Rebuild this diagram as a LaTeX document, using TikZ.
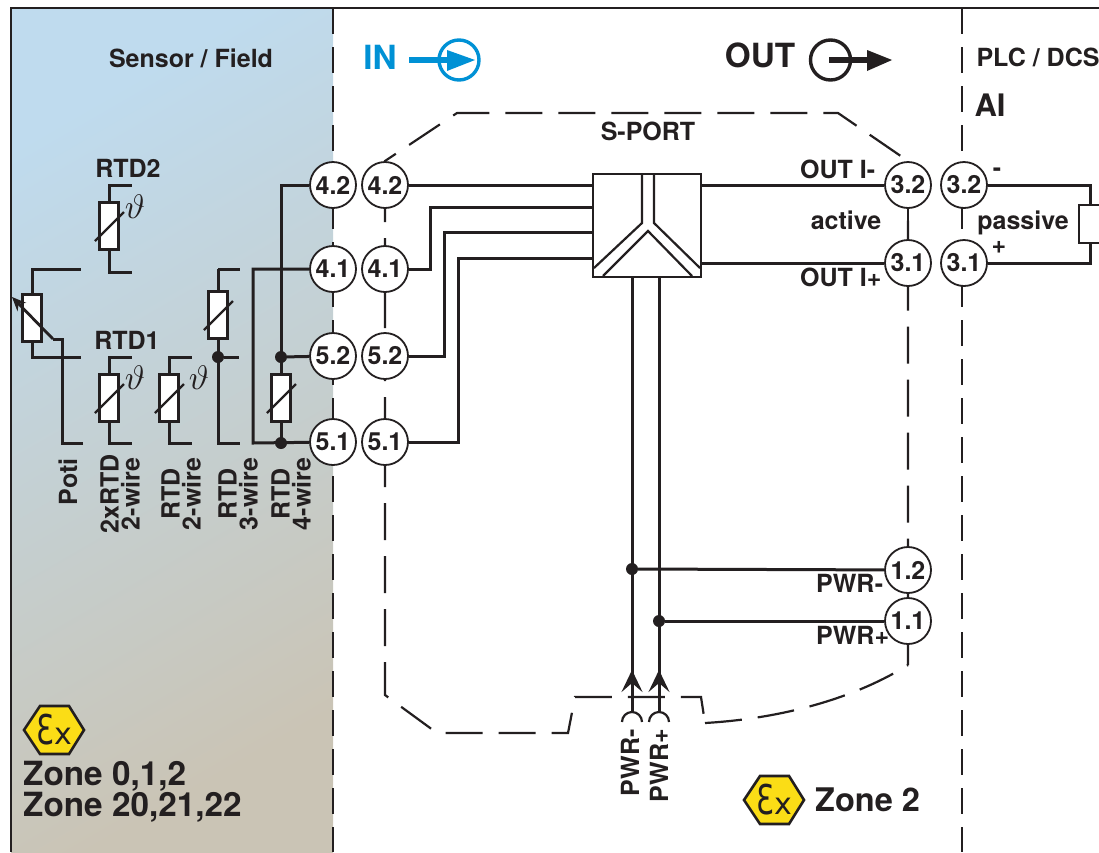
\documentclass[tikz,border=0pt]{standalone}
\usepackage{fontspec}
\setmainfont{TeX Gyre Heros}
\newfontfamily\exfont{DejaVu Sans}
\usetikzlibrary{arrows.meta}
\definecolor{inkblack}{HTML}{231F20}
\definecolor{inblue}{HTML}{0091D5}
\definecolor{exyellow}{HTML}{FBDD16}
\definecolor{fieldtop}{HTML}{BFDBEE}
\definecolor{fieldmid}{HTML}{C5D1D7}
\definecolor{fieldlow}{HTML}{CAC4B5}
\tikzset{
	wire/.style={draw=inkblack,line width=3pt},
	thinwire/.style={draw=inkblack,line width=2.2pt},
	lead/.style={draw=inkblack,line width=3pt},
	divider/.style={draw=inkblack,line width=2.8pt,dash pattern=on 26pt off 13pt},
	outline/.style={draw=inkblack,line width=2.2pt,dash pattern=on 37pt off 16pt},
	terminal/.style={circle,draw=inkblack,fill=white,line width=1.8pt,minimum size=46pt,inner sep=0pt,font=\fontsize{25}{25}\bfseries,text=inkblack},
	lbl/.style={inner sep=0pt,font=\fontsize{25}{21}\bfseries,text=inkblack,align=center},
	biglbl/.style={inner sep=0pt,font=\fontsize{33.3}{30}\bfseries,text=inkblack,align=left},
	rtdbox/.style={draw=inkblack,fill=white,line width=2.4pt,minimum width=19pt,minimum height=47pt,inner sep=0pt},
	joint/.style={circle,fill=inkblack,inner sep=0pt,minimum size=12pt},
	thetasym/.style={inner sep=0pt,text=inkblack},
	exsign/.pic={
		\draw[fill=exyellow,draw=inkblack,line width=2.6pt] (-30,0)--(-14,-24)--(15,-24)--(30,0)--(15,24)--(-14,24)--cycle;
		\node[inner sep=0pt,text=inkblack] at (-9,0) {\scalebox{.7}[1]{\fontsize{41}{41}\exfont Ɛ}};
		\node[inner sep=0pt,text=inkblack,font=\fontsize{30}{30}\exfont] at (9,6) {x};
	}
}
\begin{document}
\begin{tikzpicture}[x=1pt,y=-1pt]
	\useasboundingbox (0,0) rectangle (1099,852);
	\fill[white] (0,0) rectangle (1099,852);
	% field side
	\shade[shading=axis,top color=fieldtop,middle color=fieldmid,bottom color=fieldlow,shading angle=30] (11,8) rectangle (333,852);
	\draw[draw=inkblack,line width=2pt] (11,852)--(11,8)--(1099,8);
	\path[divider] (333,8)--(333,852);
	\path[divider] (962,8)--(962,852);
	% module outline
	\path[outline] (385,185)--(385,161)--(457,113)--(838,113)--(908,161)--(908,665);
	\path[outline] (385,185)--(385,695)--(437,733)--(568,733)--(575,697)--(701,697)--(705,723);
	\path[outline] (705,723) .. controls (790,718) and (860,695) .. (908,665);
	% texts, head
	\node[lbl] (fieldlbl) at (191,58) {Sensor / Field};
	\node[lbl] (plclbl) at (1038,57) {PLC / DCS};
	\node[lbl,font=\fontsize{31}{31}\bfseries] (ailbl) at (990,105) {AI};
	\node[biglbl,text=inblue] (inlbl) at (380,57) {IN};
	\node[biglbl] (outlbl) at (760,55.5) {OUT};
	\draw[inblue,line width=3.4pt] (459,60) circle (20pt);
	\fill[inblue] (409,57) rectangle (450,63);
	\fill[inblue] (447,50)--(475,60)--(447,71)--cycle;
	\draw[inkblack,line width=3.4pt] (830.5,60) circle (20pt);
	\fill[inkblack] (829,57) rectangle (868,63);
	\fill[inkblack] (867,50)--(892,60)--(867,71)--cycle;
	% terminals
	\node[terminal] (fa) at (333,185) {4.2};
	\node[terminal] (fb) at (333,269) {4.1};
	\node[terminal] (fc) at (333,356) {5.2};
	\node[terminal] (fd) at (333,442) {5.1};
	\node[terminal] (ia) at (385,185) {4.2};
	\node[terminal] (ib) at (385,269) {4.1};
	\node[terminal] (ic) at (385,356) {5.2};
	\node[terminal] (id) at (385,442) {5.1};
	\node[terminal] (oa) at (908,185) {3.2};
	\node[terminal] (ob) at (908,263) {3.1};
	\node[terminal] (pa) at (964,185) {3.2};
	\node[terminal] (pb) at (964,263) {3.1};
	\node[terminal] (pwa) at (908,570) {1.2};
	\node[terminal] (pwb) at (908,621) {1.1};
	\path[thinwire] (oa)--(ob);
	% s-port
	\node[draw=inkblack,fill=white,line width=2.6pt,minimum width=108pt,minimum height=103pt,inner sep=0pt] (sport) at (647,225.5) {};
	\node[lbl] (sportlbl) at (648,131) {S-PORT};
	\path[thinwire] (642,174)--(642,223)--(594,268);
	\path[thinwire] (654,174)--(654,223)--(700,268);
	\path[thinwire] (603,276)--(648,231)--(692,276);
	\coordinate (wb) at (430,269);
	\coordinate (wc) at (444,356);
	\coordinate (wd) at (458,442);
	\path[wire] (ia)--(sport.west|-ia);
	\path[wire] (ib)--(wb)--(430,207)--(593,207);
	\path[wire] (ic)--(wc)--(444,232)--(593,232);
	\path[wire] (id)--(wd)--(458,258)--(593,258);
	\path[wire] (sport.east|-oa)--(oa);
	\path[wire] (sport.east|-ob)--(ob);
	% load
	\node[draw=inkblack,fill=white,line width=2.4pt,minimum width=24pt,minimum height=38pt,inner sep=0pt] (load) at (1091,224) {};
	\path[wire] (pa)--(1090,185)--(load.north-|1090,0);
	\path[wire] (pb)--(1090,263)--(load.south-|1090,0);
	% power
	\coordinate (pma) at (632,712);
	\coordinate (pmb) at (659,712);
	\coordinate (tipa) at (632,670);
	\coordinate (tipb) at (659,670);
	\path[wire] (pma)--(tipa|-sport.south);
	\path[wire] (pmb)--(tipb|-sport.south);
	\path[wire,-{Stealth[length=22pt,width=21pt,inset=9pt]}] (632,695)--(tipa);
	\path[wire,-{Stealth[length=22pt,width=21pt,inset=9pt]}] (659,695)--(tipb);
	\draw[inkblack,line width=2.2pt] (622,722) arc (180:0:10pt);
	\draw[inkblack,line width=2.2pt] (649,722) arc (180:0:10pt);
	\node[joint] (ja) at (632,569) {};
	\node[joint] (jb) at (659,621) {};
	\path[wire] (ja)--(pwa);
	\path[wire] (jb)--(pwb);
	\node[lbl,rotate=90,anchor=east] (pwrmv) at (630,729) {PWR-};
	\node[lbl,rotate=90,anchor=east] (pwrpv) at (659,729) {PWR+};
	% labels right
	\node[lbl,anchor=west] (outm) at (800,169) {OUT I-};
	\node[lbl,anchor=west] (outp) at (800,277) {OUT I+};
	\node[lbl] (activelbl) at (846,220) {active};
	\node[lbl] (passivelbl) at (1023,223) {passive};
	\node[lbl] (minuslbl) at (997,172) {-};
	\node[lbl] (pluslbl) at (999,247) {+};
	\node[lbl,anchor=west] (pwrm) at (816,583) {PWR-};
	\node[lbl,anchor=west] (pwrp) at (816,635) {PWR+};
	% sensors
	\node[rtdbox] (rb) at (109,226) {};
	\path[lead] (rb)--(109,185)--(132,185);
	\path[lead] (rb)--(109,272)--(132,272);
	\node[rtdbox] (ra) at (109,398) {};
	\path[lead] (ra)--(109,357)--(132,357);
	\path[lead] (ra)--(109,443)--(132,443);
	\node[rtdbox] (rc) at (169,398) {};
	\path[lead] (rc)--(169,357)--(192,357);
	\path[lead] (rc)--(169,443)--(192,443);
	\coordinate (rdtop) at (218,269);
	\node[joint] (jd) at (218,357) {};
	\path[lead] (rdtop)--(218,443)--(240,443);
	\path[lead] (rdtop)--(240,269);
	\path[lead] (jd)--(239,357);
	\node[rtdbox] (rd) at (218,315) {};
	\path[lead] (fb)--(253,269)--(253,443)--(fd);
	\path[lead] (fa)--(281,185)--(281,443);
	\node[joint] (je) at (281,357) {};
	\node[joint] (jf) at (281,443) {};
	\path[lead] (je)--(fc);
	\node[rtdbox] (re) at (281,398) {};
	\node[rtdbox] (poti) at (32,318) {};
	\path[lead] (poti)--(32,269)--(81,269);
	\path[lead] (poti)--(32,357)--(81,357);
	\foreach \rname in {rb,ra,rc,rd,re} {
		\draw[inkblack,line width=2.4pt] ([shift={(-14,15)}]\rname.center)--([shift={(15,-14)}]\rname.center);
	}
	\path[lead] (83,443)--(62,443)--(62,339)--(53,339);
	\path[draw=inkblack,line width=2.8pt,-{Stealth[length=14pt,width=12pt]}] (53,339)--(12,297);
	\node[thetasym] (tha) at (135,207) {\scalebox{3.4}{$\vartheta$}};
	\node[thetasym] (thb) at (135,378) {\scalebox{3.4}{$\vartheta$}};
	\node[thetasym] (thc) at (199,378) {\scalebox{3.4}{$\vartheta$}};
	\node[lbl] (rtdtwo) at (128,168) {RTD2};
	\node[lbl] (rtdone) at (127,340) {RTD1};
	\node[lbl,rotate=90] (tpoti) at (68,482) {Poti};
	\node[lbl,rotate=90] (tdouble) at (120,494) {2xRTD\\2-wire};
	\node[lbl,rotate=90] (ttwo) at (181,494) {RTD\\2-wire};
	\node[lbl,rotate=90] (tthree) at (238,494) {RTD\\3-wire};
	\node[lbl,rotate=90] (tfour) at (291,494) {RTD\\4-wire};
	% zones
	\pic at (54,730) {exsign};
	\pic at (774,800) {exsign};
	\node[biglbl,anchor=west] (zoneleft) at (23,792) {Zone 0,1,2\\Zone 20,21,22};
	\node[biglbl,anchor=west,font=\fontsize{32.5}{32}\bfseries] (zoneright) at (815,800) {Zone 2};
\end{tikzpicture}
\end{document}
